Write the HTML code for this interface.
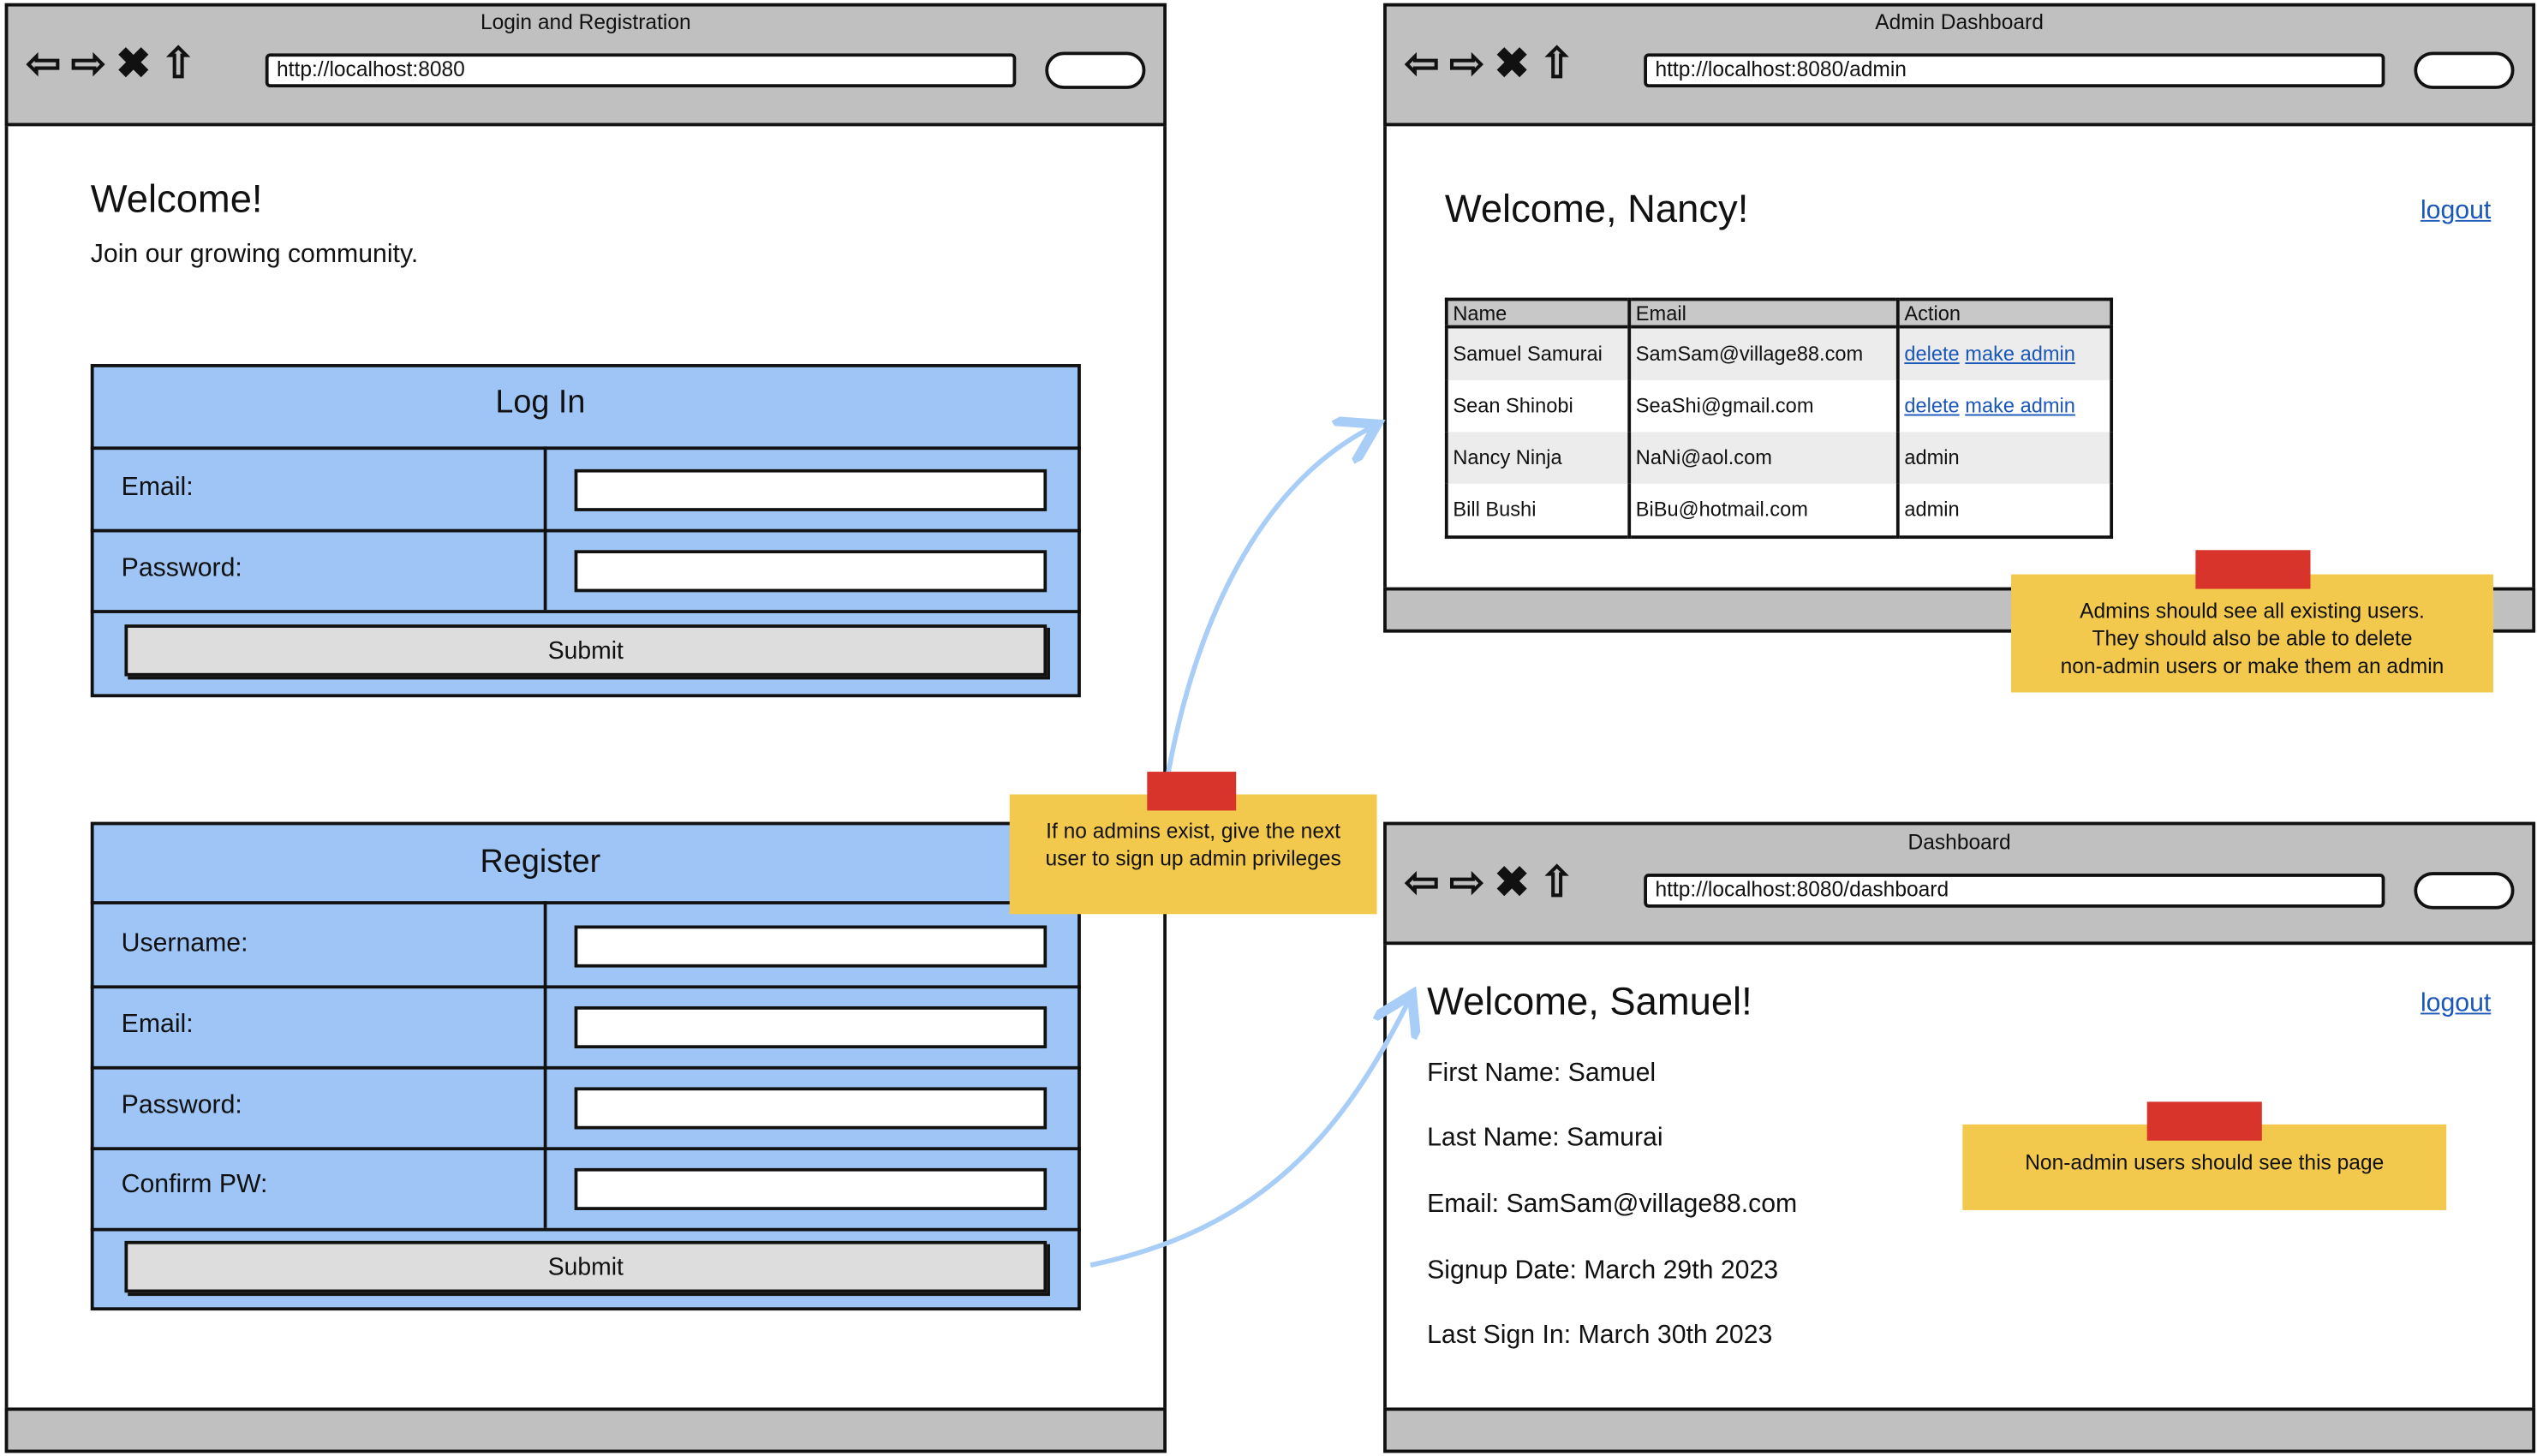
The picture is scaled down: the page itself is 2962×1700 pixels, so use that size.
<!DOCTYPE html>
<html><head><meta charset="utf-8"><style>
html,body{margin:0;padding:0;background:#fff;width:2962px;height:1700px;overflow:hidden}
#w{position:absolute;left:0;top:0;width:1568px;height:900px;transform:scale(1.889);transform-origin:0 0;font-family:"Liberation Sans",sans-serif;color:#111}
.a{position:absolute;box-sizing:border-box}
.br{border:2.5px solid #111;background:#fff}
.hd{background:#c0c0c0;border-bottom:2.5px solid #111}
.ft{background:#c0c0c0;border-top:2.5px solid #111}
.url{background:#fff;border:2px solid #111;border-radius:3px;font-size:13px;padding-left:5px;line-height:16px}
.srch{background:#fff;border:2px solid #111;border-radius:12px}
.ttl{font-size:13px;text-align:center}
.frm{background:#9ec5f5;border:2.5px solid #111}
.row{border-top:2px solid #111}
.inp{background:#fff;border:2px solid #111}
.btn{background:#ddd;border:2px solid #111;box-shadow:2px 2px 0 #111;text-align:center;font-size:15px}
.lbl{font-size:16px}
.note{background:#f2c94c;font-size:13px;text-align:center;line-height:17px}
.tape{background:#d9342b}
a{color:#1a57b8;text-decoration:underline}
td{font-size:12.5px;padding:0 3px;border-right:2px solid #111;height:32px}
</style></head><body><div id="w">

<!-- Left browser -->
<div class="a br" style="left:3px;top:2px;width:718px;height:896px"></div>
<div class="a hd" style="left:3px;top:2px;width:718px;height:76px;border:2.5px solid #111"></div>
<div class="a ttl" style="left:3px;top:6px;width:718px">Login and Registration</div>
<div class="a" style="left:16px;top:24px;font-size:26px;font-weight:bold;letter-spacing:6px">⇦⇨✖⇧</div>
<div class="a url" style="left:164px;top:33px;width:464px;height:21px">http://localhost:8080</div>
<div class="a srch" style="left:646px;top:32px;width:62px;height:23px"></div>
<div class="a ft" style="left:3px;top:870px;width:718px;height:28px;border:2.5px solid #111"></div>
<div class="a" style="left:56px;top:110px;font-size:24px">Welcome!</div>
<div class="a" style="left:56px;top:149px;font-size:16px">Join our growing community.</div>

<div class="a frm" style="left:56px;top:225px;width:612px;height:206px"></div>
<div class="a" style="left:56px;top:238px;width:556px;text-align:center;font-size:20px">Log In</div>
<div class="a row" style="left:56px;top:276px;width:612px"></div>
<div class="a row" style="left:56px;top:327px;width:612px"></div>
<div class="a row" style="left:56px;top:377px;width:612px"></div>
<div class="a" style="left:336px;top:276px;width:2px;height:101px;background:#111"></div>
<div class="a lbl" style="left:75px;top:293px">Email:</div>
<div class="a lbl" style="left:75px;top:343px">Password:</div>
<div class="a inp" style="left:355px;top:290px;width:292px;height:26px"></div>
<div class="a inp" style="left:355px;top:340px;width:292px;height:26px"></div>
<div class="a btn" style="left:77px;top:386px;width:570px;height:32px;line-height:30px">Submit</div>

<div class="a frm" style="left:56px;top:508px;width:612px;height:302px"></div>
<div class="a" style="left:56px;top:522px;width:556px;text-align:center;font-size:20px">Register</div>
<div class="a row" style="left:56px;top:557px;width:612px"></div>
<div class="a row" style="left:56px;top:609px;width:612px"></div>
<div class="a row" style="left:56px;top:659px;width:612px"></div>
<div class="a row" style="left:56px;top:709px;width:612px"></div>
<div class="a row" style="left:56px;top:759px;width:612px"></div>
<div class="a" style="left:336px;top:557px;width:2px;height:202px;background:#111"></div>
<div class="a lbl" style="left:75px;top:575px">Username:</div>
<div class="a lbl" style="left:75px;top:625px">Email:</div>
<div class="a lbl" style="left:75px;top:675px">Password:</div>
<div class="a lbl" style="left:75px;top:724px">Confirm PW:</div>
<div class="a inp" style="left:355px;top:572px;width:292px;height:26px"></div>
<div class="a inp" style="left:355px;top:622px;width:292px;height:26px"></div>
<div class="a inp" style="left:355px;top:672px;width:292px;height:26px"></div>
<div class="a inp" style="left:355px;top:722px;width:292px;height:26px"></div>
<div class="a btn" style="left:77px;top:767px;width:570px;height:32px;line-height:30px">Submit</div>

<!-- Admin browser -->
<div class="a br" style="left:855px;top:2px;width:712px;height:389px"></div>
<div class="a hd" style="left:855px;top:2px;width:712px;height:76px;border:2.5px solid #111"></div>
<div class="a ttl" style="left:855px;top:6px;width:712px">Admin Dashboard</div>
<div class="a" style="left:868px;top:24px;font-size:26px;font-weight:bold;letter-spacing:6px">⇦⇨✖⇧</div>
<div class="a url" style="left:1016px;top:33px;width:458px;height:21px">http://localhost:8080/admin</div>
<div class="a srch" style="left:1492px;top:32px;width:62px;height:23px"></div>
<div class="a ft" style="left:855px;top:363px;width:712px;height:28px;border:2.5px solid #111"></div>
<div class="a" style="left:893px;top:116px;font-size:24px">Welcome, Nancy!</div>
<div class="a" style="left:1496px;top:122px;font-size:16px"><a>logout</a></div>
<table class="a" style="left:893px;top:184px;border:2.5px solid #111;border-collapse:collapse;width:413px" cellspacing="0">
<tr style="background:#c8c8c8;border-bottom:2px solid #111"><td style="height:15px;width:105px">Name</td><td style="height:15px;width:158px">Email</td><td style="height:15px;border-right:none">Action</td></tr>
<tr style="background:#ececec"><td>Samuel Samurai</td><td>SamSam@village88.com</td><td style="border-right:none"><a>delete</a> <a>make admin</a></td></tr>
<tr><td>Sean Shinobi</td><td>SeaShi@gmail.com</td><td style="border-right:none"><a>delete</a> <a>make admin</a></td></tr>
<tr style="background:#ececec"><td>Nancy Ninja</td><td>NaNi@aol.com</td><td style="border-right:none">admin</td></tr>
<tr><td>Bill Bushi</td><td>BiBu@hotmail.com</td><td style="border-right:none">admin</td></tr>
</table>

<!-- Dashboard -->
<div class="a br" style="left:855px;top:508px;width:712px;height:390px"></div>
<div class="a hd" style="left:855px;top:508px;width:712px;height:76px;border:2.5px solid #111"></div>
<div class="a ttl" style="left:855px;top:513px;width:712px">Dashboard</div>
<div class="a" style="left:868px;top:530px;font-size:26px;font-weight:bold;letter-spacing:6px">⇦⇨✖⇧</div>
<div class="a url" style="left:1016px;top:540px;width:458px;height:21px">http://localhost:8080/dashboard</div>
<div class="a srch" style="left:1492px;top:539px;width:62px;height:23px"></div>
<div class="a ft" style="left:855px;top:870px;width:712px;height:28px;border:2.5px solid #111"></div>
<div class="a" style="left:882px;top:606px;font-size:24px">Welcome, Samuel!</div>
<div class="a" style="left:1496px;top:612px;font-size:16px"><a>logout</a></div>
<div class="a lbl" style="left:882px;top:655px">First Name: Samuel</div>
<div class="a lbl" style="left:882px;top:695px">Last Name: Samurai</div>
<div class="a lbl" style="left:882px;top:736px">Email: SamSam@village88.com</div>
<div class="a lbl" style="left:882px;top:777px">Signup Date: March 29th 2023</div>
<div class="a lbl" style="left:882px;top:817px">Last Sign In: March 30th 2023</div>

<svg class="a" style="left:0;top:0" width="1568" height="900">
<defs><marker id="m" markerWidth="10" markerHeight="10" refX="6" refY="5" orient="auto"><path d="M0,0 L8,5 L0,10" fill="none" stroke="#a8cdf7" stroke-width="2"/></marker></defs>
<path d="M722,478 C740,380 780,300 846,265" fill="none" stroke="#a8cdf7" stroke-width="3" marker-end="url(#m)"/>
<path d="M674,782 C780,760 830,700 870,620" fill="none" stroke="#a8cdf7" stroke-width="3" marker-end="url(#m)"/>
</svg>

<!-- notes -->
<div class="a note" style="left:1243px;top:355px;width:298px;height:73px;padding-top:14px">Admins should see all existing users.<br>They should also be able to delete<br>non-admin users or make them an admin</div>
<div class="a tape" style="left:1357px;top:340px;width:71px;height:24px"></div>
<div class="a note" style="left:624px;top:491px;width:227px;height:74px;padding-top:14px">If no admins exist, give the next<br>user to sign up admin privileges</div>
<div class="a tape" style="left:709px;top:477px;width:55px;height:24px"></div>
<div class="a note" style="left:1213px;top:695px;width:299px;height:53px;padding-top:15px">Non-admin users should see this page</div>
<div class="a tape" style="left:1327px;top:681px;width:71px;height:24px"></div>
</div></body></html>
